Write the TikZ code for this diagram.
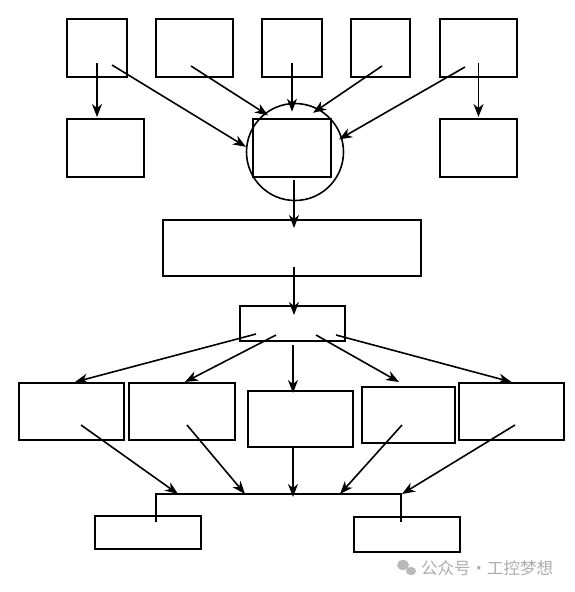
\documentclass[tikz,border=0pt]{standalone}
\usepackage{fontspec}
\newfontfamily\cjk{Noto Sans CJK SC}
\usetikzlibrary{arrows.meta}

\begin{document}
\begin{tikzpicture}[x=1pt,y=-1pt,
  box/.style={draw,line width=1.8pt,inner sep=0pt,outer sep=0pt},
  ar/.style={line width=1.6pt,-{Stealth[length=13pt,width=10pt,inset=4pt]}}]
\useasboundingbox (0,0) rectangle (574,592);
% top two rows
\foreach \n/\x/\w in {t1/97/60,t2/194.5/77,t3/292/60,t4/380.5/59,t5/478.5/77}
  \node[box,minimum width=\w pt,minimum height=58pt] (\n) at (\x,48) {};
\foreach \n/\x/\w in {s1/105.5/77,hub/292/78,s2/478.5/77}
  \node[box,minimum width=\w pt,minimum height=58pt] (\n) at (\x,148) {};
\node[draw,circle,line width=1.6pt,minimum size=97pt,inner sep=0pt] (ring) at (295,152) {};
\draw[ar] ([yshift=14pt]t1.south) -- ([yshift=2pt]t1.south |- s1.north);
\draw[ar] ([yshift=14pt]t5.south) -- ([yshift=2pt]t5.south |- s2.north);
\draw[ar] ([shift={(15pt,12pt)}]t1.south) -- (ring.174);
\draw[ar,shorten >=-4pt] ([shift={(-3.5pt,11pt)}]t2.south) -- (ring.128);
\draw[ar,shorten >=-9pt] ([yshift=14pt]t3.south) -- (t3.south |- ring.north);
\draw[ar,shorten >=-7pt] ([shift={(1.5pt,11pt)}]t4.south) -- (ring.61);
\draw[ar,shorten >=-3.5pt] ([shift={(-13.5pt,10pt)}]t5.south) -- (ring.17);
% middle
\node[box,minimum width=258pt,minimum height=56pt] (big) at (292,248) {};
\node[box,minimum width=105pt,minimum height=35pt] (split) at (292.5,323.5) {};
\draw[ar] ([shift={(2pt,-3pt)}]hub.south) -- ([shift={(2pt,-8pt)}]big.north);
\draw[ar] ([shift={(2pt,9pt)}]big.south) -- ([shift={(1.5pt,-9pt)}]split.north);
% third row
\node[box,minimum width=105pt,minimum height=57pt] (o1) at (71.5,411.5) {};
\node[box,minimum width=106pt,minimum height=57pt] (o2) at (182,411.5) {};
\node[box,minimum width=105pt,minimum height=56pt] (o3) at (300.5,419) {};
\node[box,minimum width=93pt,minimum height=56pt] (o4) at (408.5,415) {};
\node[box,minimum width=105pt,minimum height=57pt] (o5) at (511.5,411.5) {};
\draw[ar] ([shift={(-36.5pt,7pt)}]split.south) -- ([shift={(3.5pt,1pt)}]o1.north);
\draw[ar] ([shift={(-16.5pt,6pt)}]split.south) -- ([shift={(3pt,1pt)}]o2.north);
\draw[ar] ([shift={(0.5pt,-4pt)}]split.south) -- ([shift={(-7.5pt,-2pt)}]o3.north);
\draw[ar] ([shift={(23.5pt,6pt)}]split.south) -- ([shift={(-9.5pt,5pt)}]o4.north);
\draw[ar] ([shift={(43.5pt,6pt)}]split.south) -- ([yshift=1pt]o5.north);
% bus and last row
\coordinate (busL) at (156,494);
\coordinate (j1) at (178,494);
\coordinate (j2) at (245,494);
\coordinate (j3) at (293,494);
\coordinate (j4) at (340,494);
\coordinate (busR) at (401,494);
\node[box,minimum width=106pt,minimum height=33pt] (b1) at (148,532.5) {};
\node[box,minimum width=106pt,minimum height=35pt] (b2) at (407,534.5) {};
\draw[line width=1.6pt] ([yshift=-6pt]b1.north -| busL) -- (busL) -- (busR)
  -- ([yshift=-5pt]b2.north -| busR);
\draw[ar] ([shift={(9.5pt,15pt)}]o1.south) -- (j1);
\draw[ar] ([shift={(5pt,15pt)}]o2.south) -- (j2);
\draw[ar] (o3.south -| j3) -- ([yshift=-3pt]j3);
\draw[ar] ([shift={(-6.5pt,18pt)}]o4.south) -- (j4);
\draw[ar] ([shift={(3.5pt,15pt)}]o5.south) -- ([xshift=1pt]busR);
% watermark
\fill[gray!55] (403,565) ellipse[x radius=6pt,y radius=5pt];
\fill[gray!55] (411,571) ellipse[x radius=5pt,y radius=4.2pt];
\node[text=gray!65,font=\cjk\fontsize{16.5}{16.5}\selectfont,anchor=west,inner sep=0pt] (mark) at (421,568) {公众号·工控梦想};
\end{tikzpicture}
\end{document}
